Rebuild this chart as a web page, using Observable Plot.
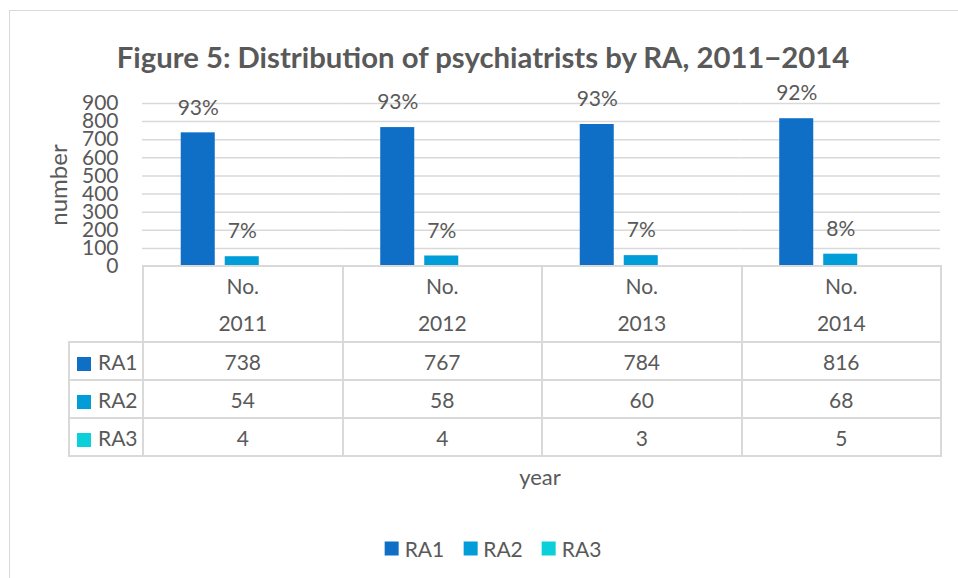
<!DOCTYPE html>
<html>
<head>
<meta charset="utf-8">
<script src="https://cdn.jsdelivr.net/npm/d3@7"></script>
<script src="https://cdn.jsdelivr.net/npm/@observablehq/plot@0.6"></script>
<style>
  body { margin: 0; background: #fff; }
  #wrap { position: relative; width: 958px; height: 578px; overflow: hidden; font-family: Lato, "Open Sans", sans-serif; color: #595959; background: #fff; }
  #frame { position: absolute; left: 9px; top: 10px; width: 1000px; height: 700px; border-left: 1.5px solid #d9d9d9; border-top: 1.5px solid #d9d9d9; }
  #title { position: absolute; left: 0; width: 966px; top: 42px; text-align: center; font-weight: bold; font-size: 29.3px; line-height: 1; white-space: nowrap; }
  #ylabel { position: absolute; left: 58px; top: 185px; transform: translate(-50%, -50%) rotate(-90deg); font-size: 24px; white-space: nowrap; line-height: 1; }
  #xlabel { position: absolute; left: 540px; top: 477px; transform: translate(-50%, -50%); font-size: 22px; line-height: 1; }
  #chart { position: absolute; left: 0; top: 0; }
  #tbl { position: absolute; left: 68px; top: 265px; border-collapse: collapse; table-layout: fixed; font-size: 21px; }
  #tbl td { border: 2px solid #d9d9d9; text-align: center; padding: 0; }
  #tbl td.empty { border: none; }
  #tbl td.key { text-align: left; padding-left: 7px; white-space: nowrap; }
  .sw { display: inline-block; width: 14px; height: 14px; margin-right: 7px; vertical-align: -1px; }
  #legend { position: absolute; left: 493px; top: 548px; transform: translate(-50%, -50%); display: flex; gap: 19px; font-size: 21px; line-height: 1; white-space: nowrap; }
  #legend span.item { display: flex; align-items: center; }
  #legend .sw { margin-right: 6px; vertical-align: 0; }
</style>
</head>
<body>
<div id="wrap">
  <div id="frame"></div>
  <div id="chart"></div>
  <div id="title"></div>
  <div id="ylabel"></div>
  <div id="xlabel"></div>
  <table id="tbl"></table>
  <div id="legend"></div>
</div>
<script>
const titleText = "Figure 5: Distribution of psychiatrists by RA, 2011\u22122014";
const yLabel = "number";
const xLabel = "year";
const years = ["2011", "2012", "2013", "2014"];
const headerLabel = "No.";
const series = ["RA1", "RA2", "RA3"];
const ra1 = [738, 767, 784, 816];
const ra2 = [54, 58, 60, 68];
const ra3 = [4, 4, 3, 5];
const labelledSeries = ["RA1", "RA2"];
const colors = ["#0F6FC6", "#009DD9", "#0BD0D9"];
const yTicks = [0, 100, 200, 300, 400, 500, 600, 700, 800, 900];

const valuesBySeries = {RA1: ra1, RA2: ra2, RA3: ra3};
const totals = years.map((y, i) => ra1[i] + ra2[i] + ra3[i]);
const data = [];
years.forEach((year, i) => {
  series.forEach(s => {
    const v = valuesBySeries[s][i];
    data.push({year, series: s, value: v, pct: Math.round(v / totals[i] * 100) + "%"});
  });
});

const txt = "#595959";
const chart = Plot.plot({
  width: 958,
  height: 270,
  marginTop: 103,
  marginBottom: 4,
  marginLeft: 142,
  marginRight: 18,
  style: {background: "transparent", fontFamily: "Lato, 'Open Sans', sans-serif", color: txt, overflow: "visible"},
  fx: {domain: years, padding: 0, round: false, axis: null},
  x: {domain: series, paddingInner: 0.227, paddingOuter: 0.88, round: false, axis: null},
  y: {domain: [0, 900], axis: null},
  color: {domain: series, range: colors},
  marks: [
    Plot.gridY(yTicks.filter(t => t > 0), {stroke: "#d9d9d9", strokeOpacity: 1, strokeWidth: 1.5}),
    Plot.axisY(yTicks, {tickSize: 0, tickPadding: 24, fontSize: 21, fill: txt, label: null}),
    Plot.barY(data, {fx: "year", x: "series", y: "value", fill: "series"}),
    Plot.text(data.filter(d => labelledSeries.includes(d.series)), {
      fx: "year", x: "series", y: "value", text: "pct", dy: -25, fontSize: 21, fill: txt, lineAnchor: "middle"
    })
  ]
});
document.getElementById("chart").appendChild(chart);

document.getElementById("title").textContent = titleText;
document.getElementById("ylabel").textContent = yLabel;
document.getElementById("xlabel").textContent = xLabel;

// data table
const tbl = document.getElementById("tbl");
const colg = document.createElement("colgroup");
const c0 = document.createElement("col"); c0.style.width = "74px"; colg.appendChild(c0);
years.forEach(() => { const c = document.createElement("col"); c.style.width = "199.5px"; colg.appendChild(c); });
tbl.appendChild(colg);
const hr = document.createElement("tr");
const e = document.createElement("td"); e.className = "empty"; hr.appendChild(e);
years.forEach(y => {
  const td = document.createElement("td");
  td.style.height = "73px";
  td.innerHTML = `<div style="line-height:37px">${headerLabel}</div><div style="line-height:37px">${y}</div>`;
  hr.appendChild(td);
});
tbl.appendChild(hr);
series.forEach((s, si) => {
  const tr = document.createElement("tr");
  const k = document.createElement("td");
  k.className = "key";
  k.style.height = "36px";
  k.innerHTML = `<span class="sw" style="background:${colors[si]}"></span>${s}`;
  tr.appendChild(k);
  valuesBySeries[s].forEach(v => {
    const td = document.createElement("td");
    td.textContent = v;
    tr.appendChild(td);
  });
  tbl.appendChild(tr);
});

// legend
const lg = document.getElementById("legend");
series.forEach((s, si) => {
  const it = document.createElement("span");
  it.className = "item";
  it.innerHTML = `<span class="sw" style="background:${colors[si]}"></span>${s}`;
  lg.appendChild(it);
});
</script>
</body>
</html>
